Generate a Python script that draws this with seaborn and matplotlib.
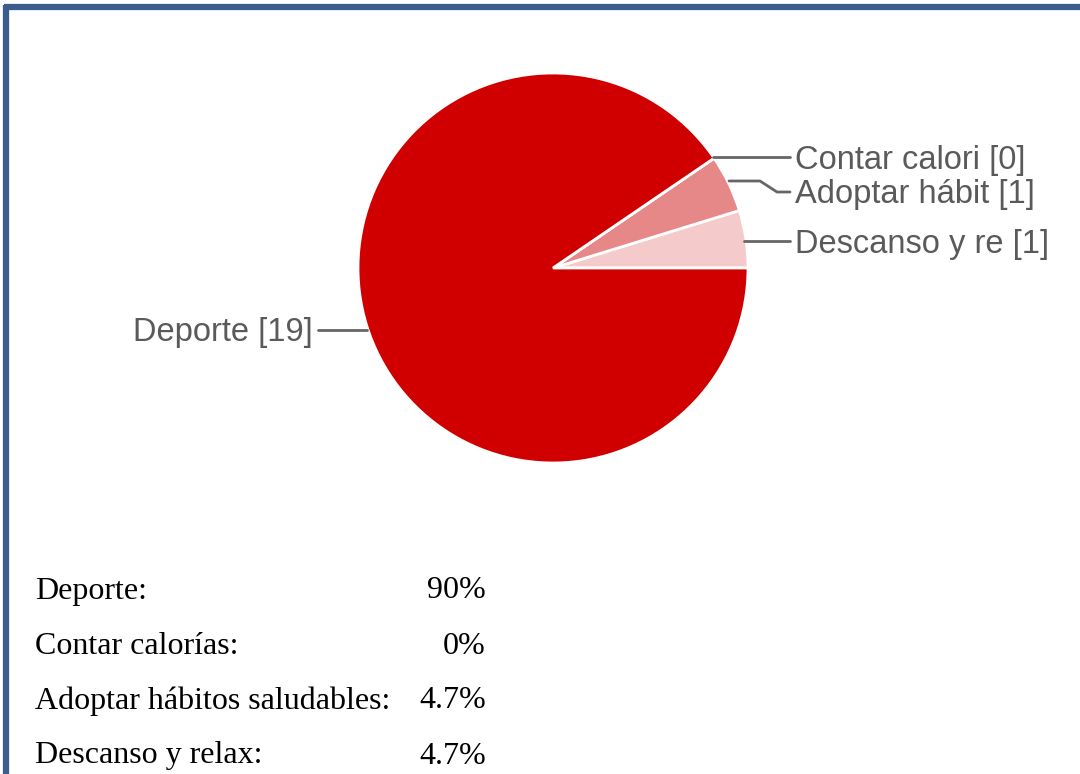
import matplotlib
matplotlib.use("Agg")
import matplotlib.pyplot as plt
import seaborn as sns
from matplotlib.lines import Line2D

# datos de la encuesta
categorias = ['Descanso y relax', 'Adoptar hábitos saludables', 'Contar calorías', 'Deporte']
etiquetas = ['Descanso y re [1]', 'Adoptar hábit [1]', 'Contar calori [0]', 'Deporte [19]']
votos = [1, 1, 0, 19]
colores = ['#F5CACA', '#E68888', '#E68888', '#D10000']

tabla_nombres = ['Deporte:', 'Contar calorías:', 'Adoptar hábitos saludables:', 'Descanso y relax:']
tabla_pct = ['90%', '0%', '4.7%', '4.7%']

sns.set_theme(style="white")

W, H = 1080, 774
fig = plt.figure(figsize=(W / 100, H / 100), dpi=100)
ax = fig.add_axes([0, 0, 1, 1])

cx, cy, r = 553, H - 268, 195
ax.pie(votos, colors=colores, startangle=0, counterclock=True,
       center=(cx, cy), radius=r,
       wedgeprops=dict(edgecolor='white', linewidth=2))
ax.set_xlim(0, W)
ax.set_ylim(0, H)
ax.set_aspect('equal')
ax.axis('off')

gris = '#666666'
lab_font = dict(family=['Liberation Sans', 'DejaVu Sans'], fontsize=23.5, color='#5a5a5a')

# coordenadas de imagen -> y hacia arriba
def y(v):
    return H - v

ax.plot([713, 790], [y(157), y(157)], color=gris, lw=2)
ax.text(795, y(160), etiquetas[2], ha='left', va='center', **lab_font)

ax.plot([729, 760, 777, 790], [y(181), y(181), y(192), y(192)], color=gris, lw=2)
ax.text(795, y(195), etiquetas[1], ha='left', va='center', **lab_font)

ax.plot([744, 790], [y(241), y(241)], color=gris, lw=2)
ax.text(795, y(244), etiquetas[0], ha='left', va='center', **lab_font)

ax.plot([318, 367], [y(330), y(330)], color=gris, lw=2)
ax.text(313, y(333), etiquetas[3], ha='right', va='center', **lab_font)

# tabla de porcentajes
tab_font = dict(family=['Liberation Serif', 'DejaVu Serif'], fontsize=23, color='black')
for i, (n, p) in enumerate(zip(tabla_nombres, tabla_pct)):
    yy = y(591 + i * 55)
    ax.text(35, yy, n, ha='left', va='center', **tab_font)
    ax.text(486, yy, p, ha='right', va='center', **tab_font)

# marco
borde = '#3A5D8D'
fig.add_artist(Line2D([6 / W, 6 / W], [0, 1 - 5 / H], transform=fig.transFigure,
                      color=borde, lw=4.5, solid_capstyle='butt'))
fig.add_artist(Line2D([4 / W, 1], [1 - 7 / H, 1 - 7 / H], transform=fig.transFigure,
                      color=borde, lw=4.5, solid_capstyle='butt'))

fig.savefig('out.png', dpi=100, facecolor='white')
